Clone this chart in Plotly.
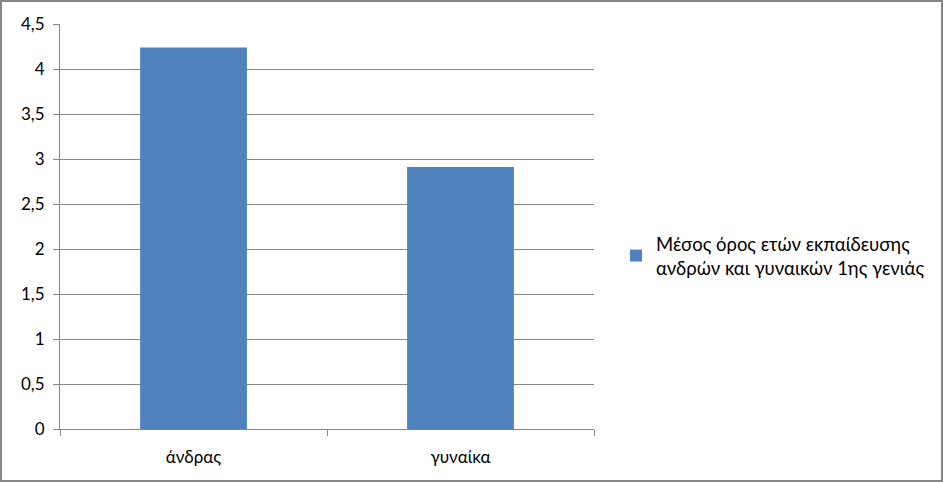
import plotly.graph_objects as go

categories = ["άνδρας", "γυναίκα"]
values = [4.24, 2.91]
series_name = "Μέσος όρος ετών εκπαίδευσης<br>ανδρών και γυναικών 1ης γενιάς"

W, H = 943, 482
L, R, T, B = 60, 349, 24, 53
pw, ph = W - L - R, H - T - B

fig = go.Figure()
fig.add_trace(
    go.Bar(
        x=categories,
        y=values,
        name=series_name,
        marker=dict(color="#4F81BD", line=dict(width=0)),
        showlegend=True,
    )
)

fig.update_layout(
    width=W,
    height=H,
    margin=dict(l=L, r=R, t=T, b=B, pad=0),
    paper_bgcolor="white",
    plot_bgcolor="white",
    bargap=0.6,
    separators=",.",
    font=dict(family="Lato, Open Sans, sans-serif", size=17, color="#000000"),
    legend=dict(
        x=(616 - L) / pw,
        y=(429 - 256) / ph,
        xanchor="left",
        yanchor="middle",
        font=dict(size=18.5),
        itemwidth=30,
        borderwidth=0,
    ),
    xaxis=dict(
        showline=True,
        linecolor="#868686",
        linewidth=1,
        ticks="outside",
        tickson="boundaries",
        ticklen=6,
        tickcolor="#868686",
        showgrid=False,
        tickfont=dict(size=17),
        ticklabelstandoff=13,
    ),
    yaxis=dict(
        range=[0, 4.5],
        dtick=0.5,
        showline=True,
        linecolor="#868686",
        linewidth=1,
        ticks="outside",
        ticklen=6,
        tickcolor="#868686",
        showgrid=True,
        gridcolor="#868686",
        gridwidth=1,
        zeroline=False,
        tickfont=dict(size=17),
        ticklabelstandoff=5,
    ),
)

# outer chart border
fig.add_shape(
    type="rect",
    xref="paper",
    yref="paper",
    x0=(1 - L) / pw,
    x1=(W - 1 - L) / pw,
    y0=-(B - 1) / ph,
    y1=(H - B - 1) / ph,
    line=dict(color="#868686", width=2),
    fillcolor="rgba(0,0,0,0)",
    layer="above",
)

fig.write_html(
    "out.html",
    config={"displayModeBar": False},
    post_script="document.body.style.margin='0';document.body.style.overflow='hidden';",
)
